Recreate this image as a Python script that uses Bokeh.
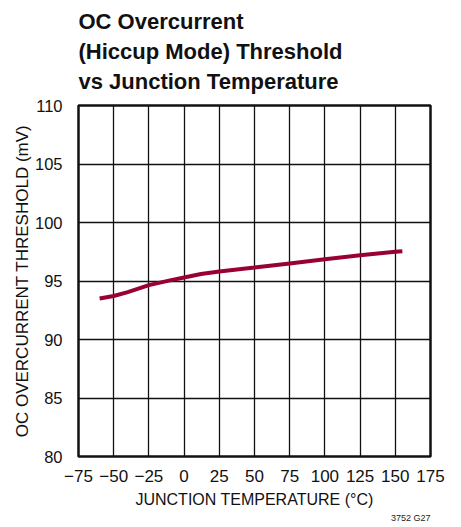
from bokeh.plotting import figure
from bokeh.models import FixedTicker, Range1d, Title
from bokeh.embed import file_html
from bokeh.resources import INLINE

temp_c = [-60, -50, -40, -25, -10, 0, 12, 25, 50, 75, 100, 125, 150, 155]
threshold_mv = [93.5, 93.72, 94.05, 94.65, 95.05, 95.3, 95.6, 95.82, 96.15, 96.5, 96.85, 97.2, 97.5, 97.55]
x_ticks = [-75, -50, -25, 0, 25, 50, 75, 100, 125, 150, 175]
y_ticks = [80, 85, 90, 95, 100, 105, 110]

FONT = "Liberation Sans"

p = figure(frame_width=352, frame_height=351, output_backend="svg", toolbar_location=None,
           x_range=Range1d(-75, 175), y_range=Range1d(80, 110),
           min_border_left=60, min_border_right=22, min_border_bottom=60, min_border_top=97)
p.styles = {"margin-left": "9px", "margin-top": "-5px"}

p.title.text = "OC Overcurrent\n(Hiccup Mode) Threshold\nvs Junction Temperature"
p.title.text_font = FONT
p.title.text_font_size = "22px"
p.title.text_font_style = "bold"
p.title.text_color = "#111111"
p.title.offset = 0
p.title.align = "left"
p.title.text_line_height = 1.2
p.title.standoff = 23

p.line(temp_c, threshold_mv, line_color="#990033", line_width=4)

p.xaxis.ticker = FixedTicker(ticks=x_ticks)
p.yaxis.ticker = FixedTicker(ticks=y_ticks)
p.xaxis.major_label_overrides = {t: ("\u2212" + str(-t) if t < 0 else str(t)) for t in x_ticks}

for ax in (p.xaxis[0], p.yaxis[0]):
    ax.major_label_text_font = FONT
    ax.major_label_text_color = "#111111"
    ax.axis_label_text_font = FONT
    ax.axis_label_text_font_style = "normal"
    ax.axis_label_text_color = "#111111"
    ax.major_tick_line_color = None
    ax.minor_tick_line_color = None
    ax.axis_line_color = None

p.xaxis.major_label_text_font_size = "17px"
p.yaxis.major_label_text_font_size = "16.5px"
p.xaxis.axis_label = "JUNCTION TEMPERATURE (°C)"
p.yaxis.axis_label = "OC OVERCURRENT THRESHOLD (mV)"
p.xaxis.axis_label_text_font_size = "16px"
p.yaxis.axis_label_text_font_size = "17px"
p.xaxis.major_label_standoff = 7
p.yaxis.major_label_standoff = 10
p.xaxis.axis_label_standoff = 6
p.yaxis.axis_label_standoff = 0

p.grid.grid_line_color = "#111111"
p.grid.grid_line_width = 1.3
p.grid.grid_line_alpha = 1.0
p.xgrid.ticker = FixedTicker(ticks=x_ticks)
p.ygrid.ticker = FixedTicker(ticks=y_ticks)

p.outline_line_color = "#111111"
p.outline_line_width = 2.5

note = Title(text="3752 G27", align="right", text_font=FONT, text_font_size="9px",
             text_font_style="normal", text_color="#222222", offset=0, standoff=0)
p.add_layout(note, "below")

p.background_fill_color = "white"
p.border_fill_color = "white"

open("out.html", "w").write(file_html(p, INLINE))
